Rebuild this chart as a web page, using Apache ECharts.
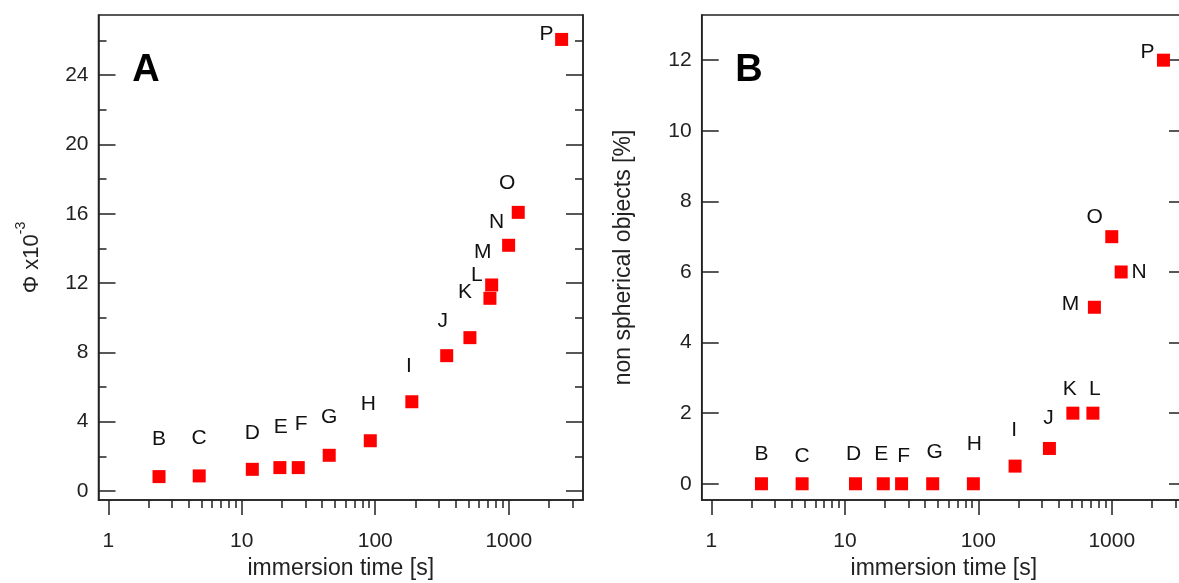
<!DOCTYPE html>
<html>
<head>
<meta charset="utf-8">
<script src="https://cdn.jsdelivr.net/npm/echarts@6/dist/echarts.min.js"></script>
<style>
html, body { margin: 0; padding: 0; background: #fff; }
#chart { width: 1179px; height: 583px; }
</style>
</head>
<body>
<div id="chart"></div>
<script>
// panel A : Phi x10^-3 against immersion time
var lettersA = ['B', 'C', 'D', 'E', 'F', 'G', 'H', 'I', 'J', 'K', 'L', 'M', 'N', 'O', 'P'];
var timesA = [2.4, 4.8, 12.0, 19.3, 26.5, 45.2, 91.8, 188, 343, 512, 723, 745, 998, 1178, 2490];
var phiA = [0.83, 0.87, 1.25, 1.35, 1.35, 2.06, 2.90, 5.15, 7.81, 8.85, 11.12, 11.89, 14.18, 16.08, 26.06];

// panel B : non spherical objects [%] against immersion time
var lettersB = ['B', 'C', 'D', 'E', 'F', 'G', 'H', 'I', 'J', 'K', 'L', 'M', 'O', 'N', 'P'];
var timesB = [2.37, 4.78, 12.0, 19.4, 26.6, 45.5, 91.8, 188.5, 341, 511, 722, 741, 1000, 1176, 2440];
var nonSphericalB = [0, 0, 0, 0, 0, 0, 0, 0.5, 1.0, 2.0, 2.0, 5.0, 7.0, 6.0, 12.0];

// tick values
var xMajorTicks = [1, 10, 100, 1000];
var xMinorTicks = [2, 3, 4, 5, 6, 7, 8, 9, 20, 30, 40, 50, 60, 70, 80, 90,
    200, 300, 400, 500, 600, 700, 800, 900, 2000, 3000];
var yMajorA = [0, 4, 8, 12, 16, 20, 24];
var yMinorA = [2, 6, 10, 14, 18, 22, 26];
var yMajorB = [0, 2, 4, 6, 8, 10, 12];

// where each letter sits relative to its marker (px)
var offsetsA = {
    B: [0, -37], C: [0, -38], D: [0, -36], E: [1, -40], F: [3, -43], G: [0, -38],
    H: [-2, -37], I: [-3, -36], J: [-4, -34], K: [-5, -45], L: [-13, -23],
    M: [-9, -33], N: [-12, -23], O: [-11, -29], P: [-15, -5]
};
var offsetsB = {
    B: [0, -30], C: [0, -28], D: [-2, -30], E: [-2, -30], F: [2, -28], G: [2, -32],
    H: [1, -40], I: [-1, -36], J: [-1, -30], K: [-3, -24], L: [2, -24],
    M: [-24, -3], N: [18, 0], O: [-17, -19], P: [-16, -8]
};

var FONT = 'Liberation Sans';
var INK = '#222';
var X_MIN = 0.845, X_MAX = 3600;

function points(times, values, letters, offsets) {
    var out = [];
    for (var i = 0; i < times.length; i++) {
        out.push({
            name: letters[i],
            value: [times[i], values[i]],
            label: {offset: offsets[letters[i]]}
        });
    }
    return out;
}

function logLabel(v) {
    return String(Math.round(v));
}

function xAxes(gridIndex) {
    return [{
        type: 'log',
        logBase: 10,
        gridIndex: gridIndex,
        position: 'bottom',
        min: X_MIN,
        max: X_MAX,
        name: 'immersion time [s]',
        nameLocation: 'middle',
        nameGap: 57,
        nameTextStyle: {fontFamily: FONT, fontSize: 23, color: INK},
        axisLine: {show: true, onZero: false, lineStyle: {color: INK, width: 1.5}},
        axisTick: {show: true, inside: false, length: 15, customValues: xMajorTicks,
            lineStyle: {color: INK, width: 1.5}},
        axisLabel: {show: true, margin: 31, customValues: xMajorTicks, formatter: logLabel,
            fontFamily: FONT, fontSize: 21, color: INK},
        splitLine: {show: false},
        minorTick: {show: false}
    }, {
        // minor ticks (2..9 of each decade) on the same bottom line
        type: 'log',
        logBase: 10,
        gridIndex: gridIndex,
        position: 'bottom',
        min: X_MIN,
        max: X_MAX,
        axisLine: {show: false, onZero: false},
        axisTick: {show: true, inside: false, length: 8, customValues: xMinorTicks,
            lineStyle: {color: INK, width: 1.5}},
        axisLabel: {show: false},
        splitLine: {show: false}
    }];
}

function yAxis(gridIndex, min, max, position, ticks, len, withLabels, name, gap, rich) {
    var ax = {
        type: 'value',
        gridIndex: gridIndex,
        position: position,
        min: min,
        max: max,
        axisLine: {show: len > 10, onZero: false, lineStyle: {color: INK, width: 1.5}},
        axisTick: {show: true, inside: true, length: len, customValues: ticks,
            lineStyle: {color: INK, width: 1.5}},
        axisLabel: {show: withLabels, customValues: ticks, margin: 10,
            fontFamily: FONT, fontSize: 21, color: INK},
        splitLine: {show: false}
    };
    if (name) {
        ax.name = name;
        ax.nameLocation = 'middle';
        ax.nameGap = gap;
        ax.nameTextStyle = {fontFamily: FONT, fontSize: 23, color: INK};
        if (rich) ax.nameTextStyle.rich = rich;
    }
    return ax;
}

var phiRich = {
    b: {fontFamily: FONT, fontSize: 22, color: INK, lineHeight: 28, verticalAlign: 'bottom'},
    s: {fontFamily: FONT, fontSize: 14, color: INK, lineHeight: 28, verticalAlign: 'top'}
};

function scatter(xi, yi, data) {
    return {
        type: 'scatter',
        xAxisIndex: xi,
        yAxisIndex: yi,
        symbol: 'rect',
        symbolSize: 13,
        itemStyle: {color: '#ff0000', opacity: 1},
        label: {
            show: true,
            position: 'inside',
            formatter: function (p) { return p.name; },
            fontFamily: FONT,
            fontSize: 21,
            color: '#111'
        },
        emphasis: {disabled: true},
        z: 3,
        data: data
    };
}

var xs = xAxes(0).concat(xAxes(1));
var ys = [
    yAxis(0, -0.52, 27.47, 'left', yMajorA, 17, true, '{b|\u03A6 x10}{s|-3}', 56, phiRich),
    yAxis(0, -0.52, 27.47, 'left', yMinorA, 8, false),
    yAxis(0, -0.52, 27.47, 'right', yMajorA, 17, false),
    yAxis(0, -0.52, 27.47, 'right', yMinorA, 8, false),
    yAxis(1, -0.46, 13.28, 'left', yMajorB, 17, true, 'non spherical objects [%]', 67),
    yAxis(1, -0.46, 13.28, 'right', yMajorB, 17, false)
];

var option = {
    backgroundColor: '#fff',
    animation: false,
    grid: [
        {left: 98.5, top: 15, width: 484.5, height: 485, show: true, containLabel: false,
            outerBoundsMode: 'none', borderColor: INK, borderWidth: 1.5, backgroundColor: 'transparent'},
        {left: 701.7, top: 15, width: 484.3, height: 485, show: true, containLabel: false,
            outerBoundsMode: 'none', borderColor: INK, borderWidth: 1.5, backgroundColor: 'transparent'}
    ],
    xAxis: xs,
    yAxis: ys,
    graphic: [
        {type: 'text', x: 146, y: 71, style: {text: 'A', font: 'bold 38px "' + FONT + '"',
            fill: '#000', align: 'center', verticalAlign: 'middle'}},
        {type: 'text', x: 749, y: 71, style: {text: 'B', font: 'bold 38px "' + FONT + '"',
            fill: '#000', align: 'center', verticalAlign: 'middle'}}
    ],
    series: [
        scatter(0, 0, points(timesA, phiA, lettersA, offsetsA)),
        scatter(2, 4, points(timesB, nonSphericalB, lettersB, offsetsB))
    ]
};

var chart = echarts.init(document.getElementById('chart'));
chart.setOption(option);
</script>
</body>
</html>
